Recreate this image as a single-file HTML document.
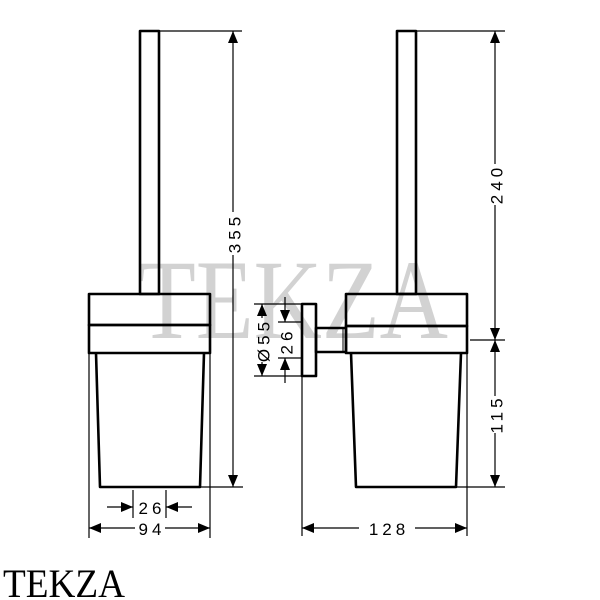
<!DOCTYPE html>
<html><head><style>html,body{margin:0;padding:0;background:#fff}svg{display:block}</style></head>
<body>
<svg width="600" height="600" viewBox="0 0 600 600" xmlns="http://www.w3.org/2000/svg">
<defs>
<marker id="a" viewBox="0 0 12 10" refX="12" refY="5" markerWidth="12" markerHeight="10" markerUnits="userSpaceOnUse" orient="auto"><path d="M0,0 L12,5 L0,10 Z" fill="#000"/></marker>
</defs>
<rect width="600" height="600" fill="#fff"/>
<text x="138" y="338" font-family="Liberation Serif, serif" font-size="113" fill="#d2d2d2" textLength="310" lengthAdjust="spacingAndGlyphs">TEKZA</text>
<g fill="none" stroke="#000" stroke-width="2.6" stroke-linejoin="round">
  <rect x="140" y="31" width="19" height="263"/>
  <rect x="89" y="294" width="121" height="31"/>
  <rect x="89" y="325" width="121" height="28"/>
  <path d="M96,353 L100,487 L200,487 L204,353"/>
  <rect x="397" y="31" width="19" height="263"/>
  <rect x="346" y="294" width="121" height="32"/>
  <rect x="346" y="326" width="121" height="27"/>
  <path d="M351,353 L356,487 L456,487 L461,353"/>
  <rect x="302" y="304" width="14" height="72"/>
  <rect x="316" y="328" width="30" height="24"/>
</g>
<line x1="343" y1="328" x2="343" y2="352" stroke="#000" stroke-width="1"/>
<g stroke="#000" stroke-width="1.2" fill="none">
  <line x1="160" y1="31" x2="242" y2="31"/>
  <line x1="200" y1="487" x2="243" y2="487"/>
  <line x1="233" y1="212" x2="233" y2="31" marker-end="url(#a)"/>
  <line x1="233" y1="255" x2="233" y2="487" marker-end="url(#a)"/>
  <line x1="133" y1="490" x2="133" y2="518"/>
  <line x1="166" y1="490" x2="166" y2="518"/>
  <line x1="107" y1="507" x2="133" y2="507" marker-end="url(#a)"/>
  <line x1="192" y1="507" x2="166" y2="507" marker-end="url(#a)"/>
  <line x1="89" y1="325" x2="89" y2="538"/>
  <line x1="210" y1="325" x2="210" y2="538"/>
  <line x1="135" y1="528" x2="89" y2="528" marker-end="url(#a)"/>
  <line x1="165" y1="528" x2="210" y2="528" marker-end="url(#a)"/>
  <line x1="416" y1="31" x2="505" y2="31"/>
  <line x1="470" y1="340" x2="505" y2="340"/>
  <line x1="456" y1="487" x2="505" y2="487"/>
  <line x1="495" y1="164" x2="495" y2="31" marker-end="url(#a)"/>
  <line x1="495" y1="205" x2="495" y2="340" marker-end="url(#a)"/>
  <line x1="495" y1="396" x2="495" y2="340" marker-end="url(#a)"/>
  <line x1="495" y1="433" x2="495" y2="487" marker-end="url(#a)"/>
  <line x1="254" y1="304" x2="302" y2="304"/>
  <line x1="254" y1="376" x2="302" y2="376"/>
  <line x1="262" y1="318" x2="262" y2="304" marker-end="url(#a)"/>
  <line x1="262" y1="362" x2="262" y2="376" marker-end="url(#a)"/>
  <line x1="278" y1="322" x2="302" y2="322"/>
  <line x1="278" y1="358" x2="302" y2="358"/>
  <line x1="285" y1="297" x2="285" y2="322" marker-end="url(#a)"/>
  <line x1="285" y1="383" x2="285" y2="358" marker-end="url(#a)"/>
  <line x1="302" y1="376" x2="302" y2="536"/>
  <line x1="467" y1="353" x2="467" y2="536"/>
  <line x1="359" y1="528" x2="302" y2="528" marker-end="url(#a)"/>
  <line x1="415" y1="528" x2="467" y2="528" marker-end="url(#a)"/>
</g>
<g font-family="Liberation Sans, sans-serif" font-size="17" fill="#000" text-anchor="middle" letter-spacing="4">
  <text x="152" y="514">26</text>
  <text x="152" y="535">94</text>
  <text x="389" y="535">128</text>
  <text transform="translate(235,233) rotate(-90)" dominant-baseline="central">355</text>
  <text transform="translate(497,184) rotate(-90)" dominant-baseline="central">240</text>
  <text transform="translate(497,414) rotate(-90)" dominant-baseline="central">115</text>
  <text transform="translate(264,340) rotate(-90)" dominant-baseline="central">Ø55</text>
  <text transform="translate(287,341) rotate(-90)" dominant-baseline="central">26</text>
</g>
<text x="3" y="597" font-family="Liberation Serif, serif" font-size="40" fill="#000" textLength="122" lengthAdjust="spacingAndGlyphs">TEKZA</text>
</svg>
</body></html>
